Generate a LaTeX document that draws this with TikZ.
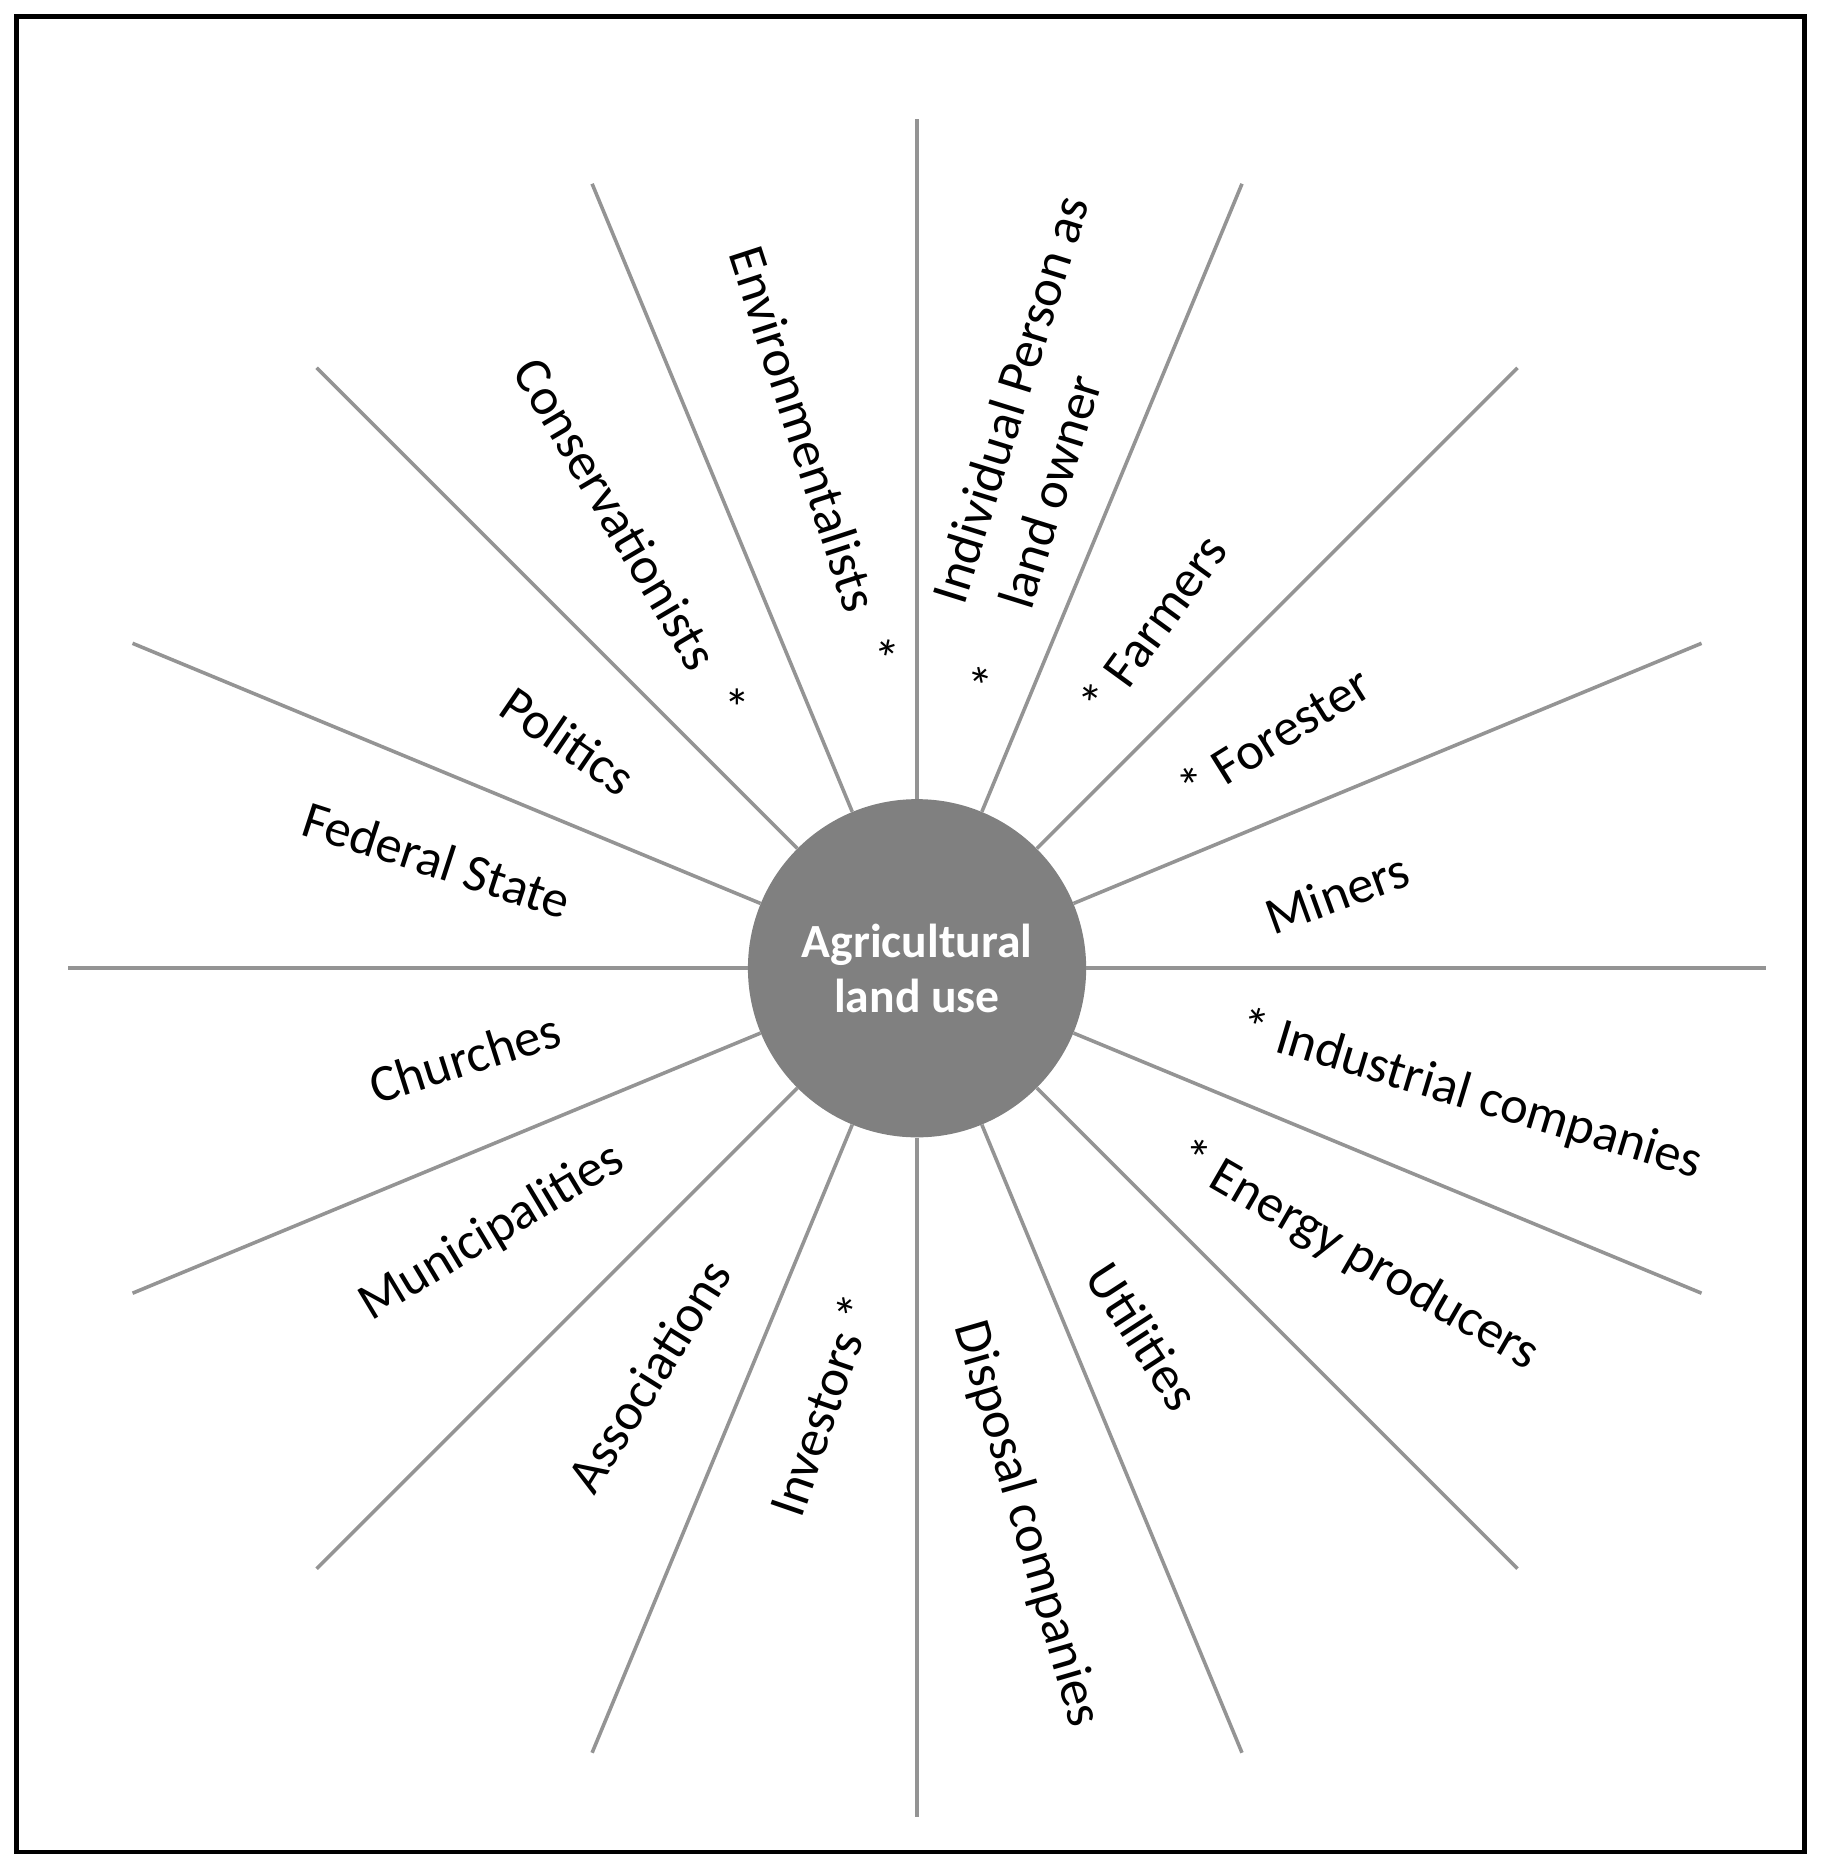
\documentclass[tikz,border=0pt]{standalone}
\usepackage{fontspec}
\usetikzlibrary{calc}
\setmainfont{Carlito}
\begin{document}
\begin{tikzpicture}[x=1pt,y=-1pt,
  spoke/.style={draw=black!42,line width=3pt},
  lab/.style={font=\fontsize{44}{50}\selectfont,inner sep=0pt,align=center}]
\useasboundingbox (0,0) rectangle (1530,1571);
\draw[line width=4pt] (14,14) rectangle (1515,1555);
\node[circle,fill=black!50,minimum size=284pt,inner sep=0pt,text=white,
  font=\fontsize{40}{46}\selectfont\bfseries,align=center] (c) at (770,813) {Agricultural\\land use};
\foreach \i in {0,...,15}{
  \coordinate (e\i) at ($(770,813)+(\i*22.5:713)$);
  \draw[spoke] (c) -- (e\i);
}
\node[lab,rotate=-72] (l1) at (683,383) {Environmentalists\hspace{0.6em}*};
\node[lab,rotate=-59.5] (l2) at (530,452) {Conservationists\hspace{0.6em}*};
\node[lab,rotate=-34.4] (l3) at (477,622) {Politics};
\node[lab,rotate=-18] (l4) at (367,722) {Federal State};
\node[lab,rotate=17.6] (l5) at (390,888) {Churches};
\node[lab,rotate=31] (l6) at (413,1035) {Municipalities};
\node[lab,rotate=58] (l7) at (545,1155) {Associations};
\node[lab,rotate=71] (l8) at (690,1180) {Investors *};
\node[lab,rotate=-73.8] (l9) at (862,1280) {Disposal companies};
\node[lab,rotate=-57] (l10) at (960,1122) {Utilities};
\node[lab,rotate=-30] (l11) at (1140,1055) {* Energy producers};
\node[lab,rotate=-16.8] (l12) at (1235,920) {* Industrial companies};
\node[lab,rotate=20] (l13) at (1123,750) {Miners};
\node[lab,rotate=32] (l14) at (1070,617) {* Forester};
\node[lab,rotate=54] (l15) at (968,525) {* Farmers};
\node[lab,rotate=72.7] (l16) at (848,335) {Individual Person as};
\node[lab,rotate=72.7] (l17) at (870,448) {*\hspace{1.2em}land owner};
\end{tikzpicture}
\end{document}
